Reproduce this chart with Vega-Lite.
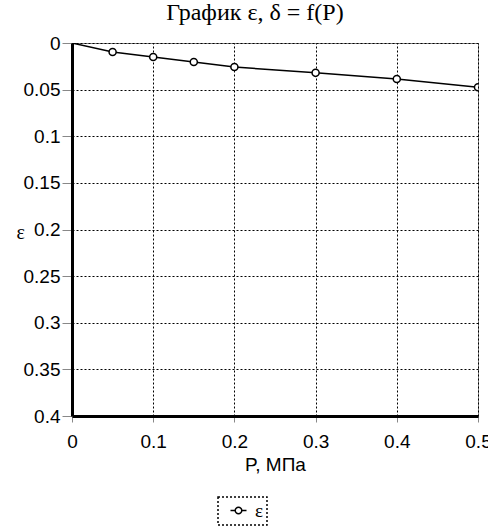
{
  "$schema": "https://vega.github.io/schema/vega-lite/v6.json",
  "autosize": "none",
  "width": 406,
  "height": 373,
  "padding": {"left": 72, "top": 43, "right": 10, "bottom": 110},
  "background": "white",
  "title": {
    "text": "График ε, δ = f(P)",
    "font": "Liberation Serif",
    "fontSize": 24,
    "fontWeight": "normal",
    "color": "black",
    "anchor": "middle",
    "frame": "group",
    "dx": -20,
    "baseline": "alphabetic",
    "offset": -10
  },
  "config": {
    "view": {"stroke": "#888", "strokeWidth": 1},
    "legend": {"strokeDash": [2, 2], "strokeWidth": 1.5},
    "axis": {
      "labelFont": "Liberation Sans",
      "labelFontSize": 19,
      "labelColor": "black",
      "titleFontWeight": "normal",
      "titleColor": "black",
      "grid": true,
      "gridColor": "black",
      "gridDash": [2, 2],
      "gridOpacity": 1,
      "gridWidth": 1,
      "tickColor": "#888",
      "domainColor": "black",
      "domainWidth": 3
    }
  },
  "data": {
    "values": [
      {"P": 0, "eps": 0, "series": "ε"},
      {"P": 0.05, "eps": 0.0097, "series": "ε"},
      {"P": 0.1, "eps": 0.015, "series": "ε"},
      {"P": 0.15, "eps": 0.0204, "series": "ε"},
      {"P": 0.2, "eps": 0.0257, "series": "ε"},
      {"P": 0.3, "eps": 0.032, "series": "ε"},
      {"P": 0.4, "eps": 0.0386, "series": "ε"},
      {"P": 0.5, "eps": 0.0475, "series": "ε"}
    ]
  },
  "encoding": {
    "x": {
      "field": "P",
      "type": "quantitative",
      "scale": {"domain": [0, 0.5], "nice": false, "zero": false},
      "axis": {
        "values": [0, 0.1, 0.2, 0.3, 0.4, 0.5],
        "format": "~f",
        "title": "P, МПа",
        "titleFont": "Liberation Sans",
        "titleFontSize": 19,
        "titlePadding": 4,
        "tickSize": 6,
        "labelPadding": 10,
        "labelFlush": false,
        "labelOverlap": false
      }
    },
    "y": {
      "field": "eps",
      "type": "quantitative",
      "scale": {"domain": [0, 0.4], "reverse": true, "nice": false, "zero": false},
      "axis": {
        "values": [0, 0.05, 0.1, 0.15, 0.2, 0.25, 0.3, 0.35, 0.4],
        "format": "~f",
        "title": "ε",
        "titleFont": "Liberation Serif",
        "titleFontSize": 20,
        "titleAngle": 0,
        "titleAlign": "left",
        "titleBaseline": "middle",
        "titleX": -56,
        "titleY": 189,
        "tickSize": 10,
        "labelPadding": 2,
        "labelFlush": false,
        "labelOverlap": false
      }
    }
  },
  "layer": [
    {
      "mark": {"type": "line", "color": "black", "strokeWidth": 1.5, "clip": true}
    },
    {
      "transform": [{"filter": "datum.P > 0"}],
      "mark": {"type": "point", "shape": "circle", "filled": true, "fill": "white", "stroke": "black", "strokeWidth": 1.5, "size": 50, "opacity": 1, "clip": true},
      "encoding": {
        "stroke": {
          "field": "series",
          "type": "nominal",
          "scale": {"domain": ["ε"], "range": ["black"]},
          "legend": {
            "title": null,
            "orient": "none",
            "legendX": 146,
            "legendY": 454,
            "padding": 4,
            "strokeColor": "black",
            "fillColor": "white",
            "symbolType": "M-1,0H-0.41M0.41,0H1M-0.41,0A0.41,0.41,0,1,1,0.41,0A0.41,0.41,0,1,1,-0.41,0Z",
            "symbolSize": 256,
            "symbolFillColor": "white",
            "symbolStrokeColor": "black",
            "symbolStrokeWidth": 1.5,
            "symbolOffset": 7,
            "labelOffset": 7,
            "labelFont": "Liberation Serif",
            "labelFontSize": 19,
            "labelColor": "black"
          }
        }
      }
    }
  ]
}
